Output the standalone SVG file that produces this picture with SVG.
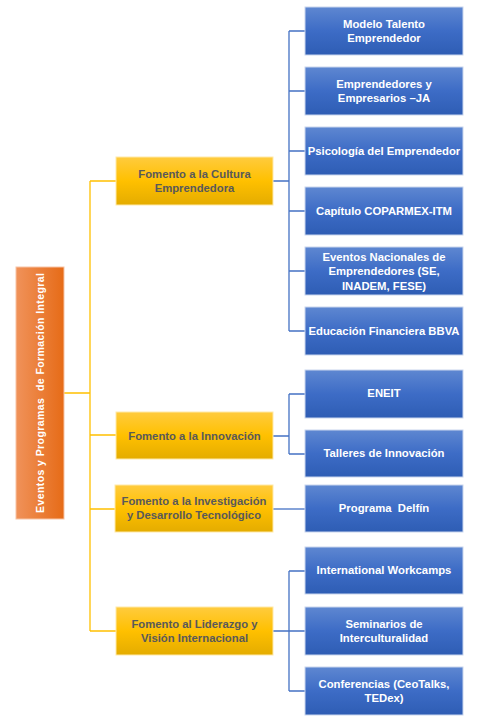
<svg xmlns="http://www.w3.org/2000/svg" width="483" height="725" viewBox="0 0 483 725">
<defs>
<linearGradient id="gy" x1="0" y1="0" x2="0" y2="1"><stop offset="0" stop-color="#FFCB3E"/><stop offset="0.5" stop-color="#FFC000"/><stop offset="1" stop-color="#E4AC00"/></linearGradient>
<linearGradient id="gb" x1="0" y1="0" x2="0" y2="1"><stop offset="0" stop-color="#5E87D1"/><stop offset="0.5" stop-color="#3D6CC6"/><stop offset="1" stop-color="#2E5DB4"/></linearGradient>
<linearGradient id="go" x1="0" y1="0" x2="1" y2="0"><stop offset="0" stop-color="#F0925A"/><stop offset="1" stop-color="#E66B17"/></linearGradient>
</defs>
<style>
.y{fill:url(#gy);stroke:#FFE9A8;stroke-width:1}
.b{fill:url(#gb);stroke:#C9D6EE;stroke-width:1}
.o{fill:url(#go);stroke:#F7C4A5;stroke-width:1}
.ty{font-family:"Liberation Sans",Arial,sans-serif;font-weight:bold;font-size:11.3px;fill:#595959;text-anchor:middle}
.tb{font-family:"Liberation Sans",Arial,sans-serif;font-weight:bold;font-size:11.3px;fill:#FFFFFF;text-anchor:middle}
.to{font-family:"Liberation Sans",Arial,sans-serif;font-weight:bold;font-size:10.5px;fill:#FFFFFF;text-anchor:middle}
.ly{fill:none;stroke:#FFC000;stroke-width:1.3}
.lb{fill:none;stroke:#4472C4;stroke-width:1.3}
</style>
<g id="connectors">
<path class="ly" d="M64 393H90M90 181V631M90 181H116M90 435H116M90 509H116M90 631H116"/>
<path class="lb" d="M273 181H289M289 31V331M289 31H305M289 91H305M289 151H305M289 211H305M289 271H305M289 331H305"/>
<path class="lb" d="M273 436H289M289 394V454M289 394H305M289 454H305"/>
<path class="lb" d="M273 509H305"/>
<path class="lb" d="M273 631H289M289 571V691M289 571H305M289 631H305M289 691H305"/>
</g>
<g id="root">
<rect class="o" x="16" y="267" width="48" height="252"/>
<text class="to" transform="translate(43.5 393) rotate(-90)" textLength="240" lengthAdjust="spacing" xml:space="preserve">Eventos y Programas  de Formación Integral</text>
</g>
<g id="cultura">
<rect class="y" x="116" y="157" width="157" height="48"/>
<text class="ty" x="194.5" y="177.5">Fomento a la Cultura</text>
<text class="ty" x="194.5" y="192">Emprendedora</text>
</g>
<g id="innovacion">
<rect class="y" x="116" y="412" width="157" height="47"/>
<text class="ty" x="194.5" y="439.5">Fomento a la Innovación</text>
</g>
<g id="investigacion">
<rect class="y" x="115" y="485" width="158" height="47"/>
<text class="ty" x="194" y="505">Fomento a la Investigación</text>
<text class="ty" x="194" y="519">y Desarrollo Tecnológico</text>
</g>
<g id="liderazgo">
<rect class="y" x="116" y="607" width="157" height="48"/>
<text class="ty" x="194.5" y="627.5">Fomento al Liderazgo y</text>
<text class="ty" x="194.5" y="642">Visión Internacional</text>
</g>
<g id="modelo">
<rect class="b" x="305" y="7" width="158" height="48"/>
<text class="tb" x="384" y="27.5">Modelo Talento</text>
<text class="tb" x="384" y="41.5">Emprendedor</text>
</g>
<g id="emprendedores">
<rect class="b" x="305" y="67" width="158" height="48"/>
<text class="tb" x="384" y="87.5">Emprendedores y</text>
<text class="tb" x="384" y="101.5">Empresarios –JA</text>
</g>
<g id="psicologia">
<rect class="b" x="305" y="127" width="158" height="48"/>
<text class="tb" x="384" y="155">Psicología del Emprendedor</text>
</g>
<g id="coparmex">
<rect class="b" x="305" y="187" width="158" height="48"/>
<text class="tb" x="384" y="215">Capítulo COPARMEX-ITM</text>
</g>
<g id="eventos">
<rect class="b" x="305" y="247" width="158" height="48"/>
<text class="tb" x="384" y="260.5">Eventos Nacionales de</text>
<text class="tb" x="384" y="275">Emprendedores (SE,</text>
<text class="tb" x="384" y="289.5">INADEM, FESE)</text>
</g>
<g id="educacion">
<rect class="b" x="305" y="307" width="158" height="48"/>
<text class="tb" x="384" y="335">Educación Financiera BBVA</text>
</g>
<g id="eneit">
<rect class="b" x="305" y="370" width="158" height="48"/>
<text class="tb" x="384" y="397">ENEIT</text>
</g>
<g id="talleres">
<rect class="b" x="305" y="430" width="158" height="47"/>
<text class="tb" x="384" y="457">Talleres de Innovación</text>
</g>
<g id="delfin">
<rect class="b" x="305" y="485" width="158" height="47"/>
<text class="tb" x="384" y="512" xml:space="preserve">Programa  Delfín</text>
</g>
<g id="workcamps">
<rect class="b" x="305" y="547" width="158" height="47"/>
<text class="tb" x="384" y="574">International Workcamps</text>
</g>
<g id="seminarios">
<rect class="b" x="305" y="607" width="158" height="48"/>
<text class="tb" x="384" y="627.5">Seminarios de</text>
<text class="tb" x="384" y="642">Interculturalidad</text>
</g>
<g id="conferencias">
<rect class="b" x="305" y="667" width="158" height="48"/>
<text class="tb" x="384" y="687.5">Conferencias (CeoTalks,</text>
<text class="tb" x="384" y="702">TEDex)</text>
</g>
</svg>
